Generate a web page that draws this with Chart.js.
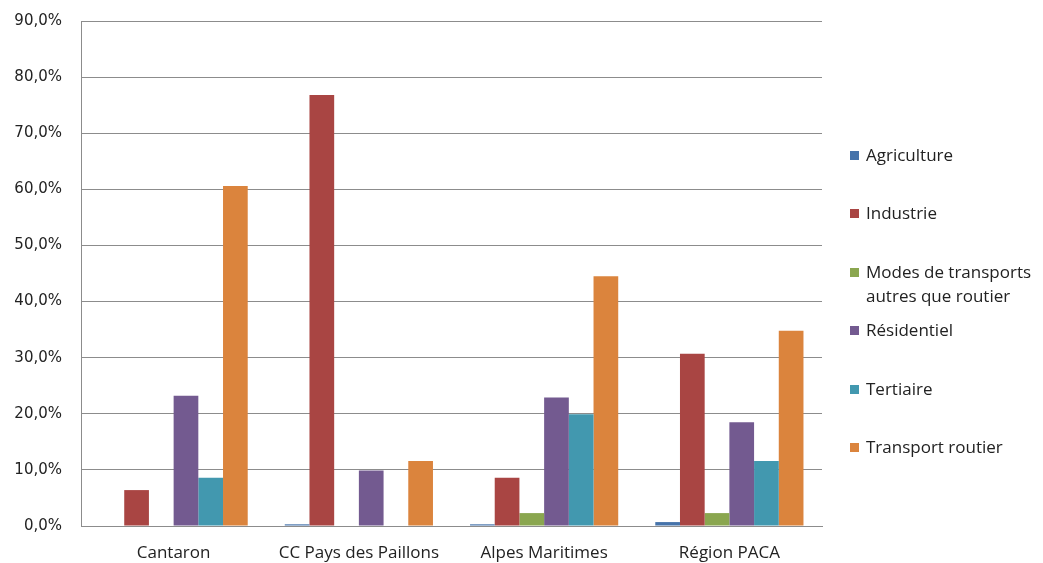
<!DOCTYPE html>
<html>
<head>
<meta charset="utf-8">
<script src="https://cdn.jsdelivr.net/npm/chart.js@4"></script>
<style>
  body { margin: 0; background: #fff; }
  #wrap { position: relative; width: 1043px; height: 563px; }
  #legend { position: absolute; left: 0; top: 0; font-family: "Open Sans", sans-serif; font-size: 17px; color: #222; }
  .item { position: absolute; left: 850px; white-space: nowrap; line-height: 24px; }
  .box { position: absolute; left: 0; top: 8px; width: 9px; height: 9px; }
  .txt { position: absolute; left: 16px; top: 0; }
</style>
</head>
<body>
<div id="wrap">
  <canvas id="chart" width="1043" height="563"></canvas>
  <div id="legend"></div>
</div>
<script>
const categories = ['Cantaron', 'CC Pays des Paillons', 'Alpes Maritimes', 'Région PACA'];
const seriesNames = ['Agriculture', 'Industrie', ['Modes de transports', 'autres que routier'], 'Résidentiel', 'Tertiaire', 'Transport routier'];
const agriculture = [0, 0.3, 0.3, 0.7];
const industrie = [6.4, 76.8, 8.6, 30.7];
const modesAutres = [0, 0, 2.3, 2.3];
const residentiel = [23.2, 9.9, 22.9, 18.5];
const tertiaire = [8.6, 0, 19.9, 11.6];
const transportRoutier = [60.6, 11.6, 44.5, 34.8];
const colors = ['#4673aa', '#a94543', '#8aa64f', '#735a90', '#4298af', '#db843d'];

const values = [agriculture, industrie, modesAutres, residentiel, tertiaire, transportRoutier];

const ctx = document.getElementById('chart').getContext('2d');
const chart = new Chart(ctx, {
    type: 'bar',
    data: {
        labels: categories,
        datasets: values.map((v, i) => ({
            label: Array.isArray(seriesNames[i]) ? seriesNames[i].join(' ') : seriesNames[i],
            data: v,
            backgroundColor: colors[i],
            categoryPercentage: 0.8,
            barPercentage: 1.0
        }))
    },
    options: {
        responsive: false,
        animation: false,
        layout: { padding: { top: 21, right: 221, bottom: 0, left: 0 } },
        plugins: { legend: { display: false }, tooltip: { enabled: false } },
        scales: {
            x: {
                grid: { display: false, drawTicks: false },
                border: { color: '#8c8c8c', width: 1 },
                ticks: { color: '#222', padding: 17, font: { family: 'Open Sans', size: 17 } },
                afterFit: s => { s.height = 37; }
            },
            y: {
                min: 0, max: 90,
                grid: { color: '#8c8c8c', lineWidth: 1, drawTicks: false },
                border: { color: '#8c8c8c', width: 1 },
                ticks: {
                    stepSize: 10, padding: 19, color: '#222',
                    font: { family: 'DejaVu Sans', size: 15 },
                    callback: v => v.toFixed(1).replace('.', ',') + '%'
                },
                afterFit: s => { s.width = 81; s.paddingTop = 0; s.paddingBottom = 0; }
            }
        }
    }
});

// legend on the right, Excel-style spacing
const legendEl = document.getElementById('legend');
seriesNames.forEach((name, i) => {
    const div = document.createElement('div');
    div.className = 'item';
    div.style.top = (143 + i * 58.4) + 'px';
    const lines = Array.isArray(name) ? name : [name];
    div.innerHTML = `<span class="box" style="background:${colors[i]}"></span><span class="txt">${lines.join('<br>')}</span>`;
    legendEl.appendChild(div);
});
</script>
</body>
</html>
